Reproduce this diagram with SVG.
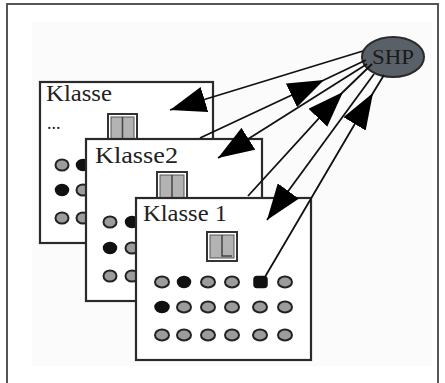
<svg xmlns="http://www.w3.org/2000/svg" width="445" height="383" viewBox="0 0 445 383">
<style>
.box{fill:#fff;stroke:#2a2a2a;stroke-width:2.2}
.lbl{font-family:"Liberation Serif","Times New Roman",serif;font-size:23px;fill:#222}
.o{fill:#9c9c9c;stroke:#222;stroke-width:2}
.f{fill:#111;stroke:#111;stroke-width:1.5}
.icon{fill:#fff;stroke:#333;stroke-width:2}
.iconin{fill:#b3b3b3;stroke:#555;stroke-width:1}
.ln{fill:none;stroke:#111;stroke-width:1.8}
</style>
<defs>
<marker id="ah" markerUnits="userSpaceOnUse" viewBox="0 0 36 26" markerWidth="36" markerHeight="26" refX="36" refY="13" orient="auto">
<path d="M0,0 L36,13 L0,26 Z" fill="#000"/>
</marker>
</defs>
<rect x="0" y="0" width="445" height="383" fill="#fff"/>
<rect x="32" y="22" width="400" height="344" fill="#fbfbfb"/>
<rect x="7" y="4" width="431" height="400" fill="none" stroke="#444" stroke-width="1.8"/>

<g id="klasse">
<rect class="box" x="40" y="82" width="173" height="161"/>
<text class="lbl" x="46" y="101" textLength="66" lengthAdjust="spacingAndGlyphs">Klasse</text>
<text class="lbl" x="47" y="129" style="font-size:18px">...</text>
<rect class="icon" x="108" y="114" width="29" height="28"/>
<rect class="iconin" x="111" y="117" width="23" height="25"/>
<line x1="122.5" y1="117" x2="122.5" y2="142" stroke="#444" stroke-width="1.5"/>
<ellipse class="o" cx="62" cy="165" rx="6.5" ry="5.5"/>
<ellipse class="f" cx="83" cy="165" rx="6.5" ry="5.5"/>
<ellipse class="f" cx="62" cy="190" rx="6.5" ry="5.5"/>
<ellipse class="o" cx="83" cy="190" rx="6.5" ry="5.5"/>
<ellipse class="o" cx="62" cy="218" rx="6.5" ry="5.5"/>
<ellipse class="o" cx="83" cy="218" rx="6.5" ry="5.5"/>
</g>

<g id="klasse2">
<rect class="box" x="86" y="139" width="176" height="162"/>
<text class="lbl" x="95" y="163" textLength="83" lengthAdjust="spacingAndGlyphs">Klasse2</text>
<rect class="icon" x="157" y="172" width="30" height="28"/>
<rect class="iconin" x="160" y="175" width="24" height="25"/>
<line x1="172" y1="175" x2="172" y2="200" stroke="#444" stroke-width="1.5"/>
<ellipse class="o" cx="110" cy="222" rx="6.5" ry="5.5"/>
<ellipse class="f" cx="132" cy="222" rx="6.5" ry="5.5"/>
<ellipse class="f" cx="110" cy="248" rx="6.5" ry="5.5"/>
<ellipse class="o" cx="132" cy="248" rx="6.5" ry="5.5"/>
<ellipse class="o" cx="110" cy="276" rx="6.5" ry="5.5"/>
<ellipse class="o" cx="132" cy="276" rx="6.5" ry="5.5"/>
</g>

<g id="klasse1">
<rect class="box" x="136" y="198" width="175" height="162"/>
<text class="lbl" x="143" y="221" textLength="84" lengthAdjust="spacingAndGlyphs">Klasse 1</text>
<rect class="icon" x="207" y="232" width="30" height="29"/>
<rect class="iconin" x="210" y="235" width="24" height="23"/>
<path d="M222,235 V256 H232" fill="none" stroke="#444" stroke-width="1.5"/>
<ellipse class="o" cx="162" cy="282" rx="7" ry="5.5"/>
<ellipse class="f" cx="184" cy="282" rx="6.5" ry="5.5"/>
<ellipse class="o" cx="208" cy="282" rx="7" ry="5.5"/>
<ellipse class="o" cx="232" cy="282" rx="7" ry="5.5"/>
<rect class="f" x="254" y="276.5" width="13" height="11" rx="3"/>
<ellipse class="o" cx="285" cy="282" rx="7" ry="5.5"/>
<ellipse class="f" cx="162" cy="307" rx="7" ry="5.5"/>
<ellipse class="o" cx="184" cy="307" rx="7" ry="5.5"/>
<ellipse class="o" cx="208" cy="307" rx="7" ry="5.5"/>
<ellipse class="o" cx="232" cy="307" rx="7" ry="5.5"/>
<ellipse class="o" cx="260" cy="307" rx="7" ry="5.5"/>
<ellipse class="o" cx="285" cy="307" rx="7" ry="5.5"/>
<ellipse class="o" cx="162" cy="335" rx="7" ry="5.5"/>
<ellipse class="o" cx="184" cy="335" rx="7" ry="5.5"/>
<ellipse class="o" cx="208" cy="335" rx="7" ry="5.5"/>
<ellipse class="o" cx="232" cy="335" rx="7" ry="5.5"/>
<ellipse class="o" cx="260" cy="335" rx="7" ry="5.5"/>
<ellipse class="o" cx="285" cy="335" rx="7" ry="5.5"/>
</g>

<g id="shp">
<ellipse cx="393" cy="57" rx="31" ry="20" fill="#5a6068" stroke="#2a2a2a" stroke-width="2"/>
<text x="393" y="64" text-anchor="middle" font-family="Liberation Serif, Times New Roman, serif" font-size="20" fill="#1a1a1a" textLength="42" lengthAdjust="spacingAndGlyphs">SHP</text>
</g>

<g id="connectors">
<path class="ln" d="M363,51 L170,110" marker-end="url(#ah)"/>
<path class="ln" d="M200,138 L324,80 L366,60" marker-mid="url(#ah)"/>
<path class="ln" d="M367,64 L218,158" marker-end="url(#ah)"/>
<path class="ln" d="M248,196 L343,92 L372,64" marker-mid="url(#ah)"/>
<path class="ln" d="M374,74 L267,220" marker-end="url(#ah)"/>
<path class="ln" d="M262,282 L373,93 L384,75" marker-mid="url(#ah)"/>
</g>
</svg>
